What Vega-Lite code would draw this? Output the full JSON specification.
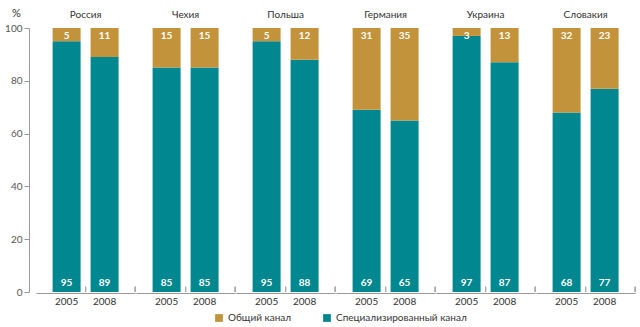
{
  "$schema": "https://vega.github.io/schema/vega-lite/v6.json",
  "padding": {"left": 4, "top": 7, "right": 8, "bottom": 2},
  "data": {"values": [
    {"country": "Россия", "year": "2005", "type": "Специализированный канал", "value": 95},
    {"country": "Россия", "year": "2005", "type": "Общий канал", "value": 5},
    {"country": "Россия", "year": "2008", "type": "Специализированный канал", "value": 89},
    {"country": "Россия", "year": "2008", "type": "Общий канал", "value": 11},
    {"country": "Чехия", "year": "2005", "type": "Специализированный канал", "value": 85},
    {"country": "Чехия", "year": "2005", "type": "Общий канал", "value": 15},
    {"country": "Чехия", "year": "2008", "type": "Специализированный канал", "value": 85},
    {"country": "Чехия", "year": "2008", "type": "Общий канал", "value": 15},
    {"country": "Польша", "year": "2005", "type": "Специализированный канал", "value": 95},
    {"country": "Польша", "year": "2005", "type": "Общий канал", "value": 5},
    {"country": "Польша", "year": "2008", "type": "Специализированный канал", "value": 88},
    {"country": "Польша", "year": "2008", "type": "Общий канал", "value": 12},
    {"country": "Германия", "year": "2005", "type": "Специализированный канал", "value": 69},
    {"country": "Германия", "year": "2005", "type": "Общий канал", "value": 31},
    {"country": "Германия", "year": "2008", "type": "Специализированный канал", "value": 65},
    {"country": "Германия", "year": "2008", "type": "Общий канал", "value": 35},
    {"country": "Украина", "year": "2005", "type": "Специализированный канал", "value": 97},
    {"country": "Украина", "year": "2005", "type": "Общий канал", "value": 3},
    {"country": "Украина", "year": "2008", "type": "Специализированный канал", "value": 87},
    {"country": "Украина", "year": "2008", "type": "Общий канал", "value": 13},
    {"country": "Словакия", "year": "2005", "type": "Специализированный канал", "value": 68},
    {"country": "Словакия", "year": "2005", "type": "Общий канал", "value": 32},
    {"country": "Словакия", "year": "2008", "type": "Специализированный канал", "value": 77},
    {"country": "Словакия", "year": "2008", "type": "Общий канал", "value": 23}
  ]},
  "facet": {
    "column": {
      "field": "country", "type": "nominal",
      "sort": ["Россия", "Чехия", "Польша", "Германия", "Украина", "Словакия"],
      "header": {"title": null, "labelFontSize": 10, "labelFontWeight": "normal", "labelColor": "#333", "labelFont": "Lato", "labelPadding": 8}
    }
  },
  "spacing": 0,
  "spec": {
    "width": 99.2,
    "height": 264,
    "layer": [
      {
        "mark": {"type": "bar"},
        "encoding": {
          "x": {
            "field": "year", "type": "ordinal",
            "scale": {"paddingInner": 0.263, "paddingOuter": 0.437},
            "axis": {"title": null, "labelAngle": 0, "ticks": false, "labelPadding": 3}
          },
          "y": {
            "field": "value", "type": "quantitative", "stack": "zero",
            "scale": {"domain": [0, 100], "nice": false},
            "axis": {"title": "%", "titleAngle": 0, "titleX": -13, "titleY": -12, "titleAlign": "center", "titleBaseline": "alphabetic",
                     "titleFontWeight": "normal", "titleFontSize": 11, "titleColor": "#333", "titleFont": "Lato",
                     "values": [0, 20, 40, 60, 80, 100], "grid": false, "offset": 7, "tickSize": 5, "labelPadding": 2, "labelColor": "#555"}
          },
          "color": {
            "field": "type", "type": "nominal",
            "scale": {"domain": ["Общий канал", "Специализированный канал"], "range": ["#C3933B", "#00878F"]},
            "legend": {"title": null, "orient": "none", "legendX": 178, "legendY": 285, "direction": "horizontal", "symbolType": "square", "symbolSize": 60,
                       "labelFontSize": 10, "labelColor": "#333", "labelFont": "Lato", "columnPadding": 30, "symbolStrokeWidth": 0}
          },
          "order": {"field": "type", "sort": "descending"}
        }
      },
      {
        "transform": [{"filter": "datum.type === 'Специализированный канал'"}],
        "mark": {"type": "text", "color": "white", "fontWeight": "bold", "fontSize": 10, "font": "Lato", "baseline": "alphabetic", "dy": -6},
        "encoding": {
          "x": {"field": "year", "type": "ordinal"},
          "y": {"datum": 0, "type": "quantitative"},
          "text": {"field": "value", "type": "quantitative"}
        }
      },
      {
        "transform": [{"filter": "datum.type === 'Общий канал'"}],
        "mark": {"type": "text", "color": "white", "fontWeight": "bold", "fontSize": 10, "font": "Lato", "baseline": "top", "dy": 3},
        "encoding": {
          "x": {"field": "year", "type": "ordinal"},
          "y": {"datum": 100, "type": "quantitative"},
          "text": {"field": "value", "type": "quantitative"}
        }
      },
      {
        "mark": {"type": "rule", "color": "#aaa"},
        "encoding": {
          "x": {"datum": "2005", "type": "ordinal", "bandPosition": 1.179},
          "y": {"datum": 0, "type": "quantitative"},
          "y2": {"datum": 2}
        }
      },
      {
        "mark": {"type": "rule", "color": "#aaa"},
        "encoding": {
          "x": {"datum": "2008", "type": "ordinal", "bandPosition": 1.593},
          "y": {"datum": 0, "type": "quantitative"},
          "y2": {"datum": 2}
        }
      }
    ]
  },
  "config": {
    "view": {"stroke": null},
    "font": "Lato",
    "axis": {"domainColor": "#999", "tickColor": "#999", "labelColor": "#333", "labelFontSize": 10, "labelFont": "Lato"}
  }
}
